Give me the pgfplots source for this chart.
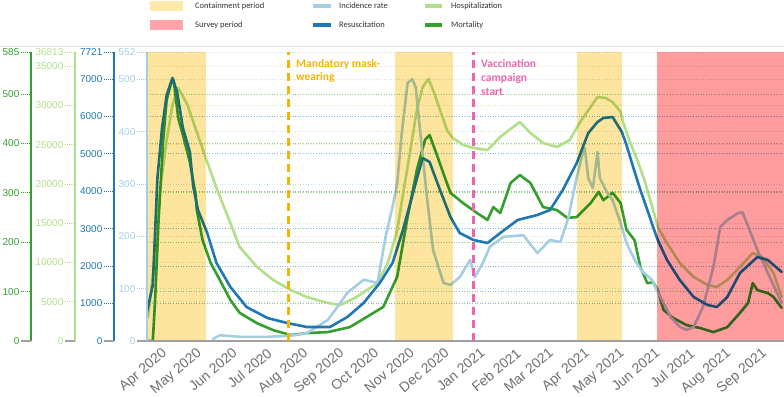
\documentclass[border=0pt]{standalone}
\usepackage{pgfplots}
\pgfplotsset{compat=1.18}
\usepackage{pgfplotstable}
\usepackage{fontspec}
\setmainfont{Liberation Sans}
\newfontfamily\calfont{Carlito}

\definecolor{incid}{HTML}{A6CEE3}
\definecolor{resus}{HTML}{1F78B4}
\definecolor{hosp}{HTML}{B2DF8A}
\definecolor{mort}{HTML}{33A02C}
\definecolor{contain}{HTML}{FDE5A0}
\definecolor{containkey}{HTML}{FFE8A8}
\definecolor{survey}{HTML}{FF9C9E}
\definecolor{surveykey}{HTML}{FFA5A8}
\definecolor{maskc}{HTML}{F5B400}
\definecolor{vaccc}{HTML}{E966B0}
\definecolor{datelab}{HTML}{707070}
\definecolor{zeroline}{HTML}{A0A0A0}
\definecolor{keytext}{HTML}{333333}

% x = days since 1 March 2020
\pgfplotstableread{
day value
75 4
81 11
98 8
122 8
142 10
156 15
174 40
176 46
185 73
191 92
205 117
217 111
224 199
230 256
234 302
238 397
243 493
247 500
250 485
254 397
260 269
265 174
274 111
280 107
288 122
297 155
301 122
308 149
314 180
326 199
343 202
355 168
366 193
375 189
382 237
389 313
395 365
396 369
399 311
403 292
407 361
409 311
415 285
420 269
427 225
432 187
439 155
446 132
454 117
458 97
464 73
470 46
478 27
484 21
490 27
498 65
507 141
513 218
519 231
528 244
532 246
536 225
545 174
554 130
562 92
566 73
}\incidencedata

\pgfplotstableread{
day value
18 775
23 1496
27 4355
31 5690
35 6572
40 7026
44 6652
49 5690
55 5049
58 4114
62 3500
70 2885
78 2084
90 1443
104 908
122 614
139 481
156 374
176 374
191 641
205 1015
219 1550
230 2084
239 2965
250 4221
256 4889
262 4782
271 4034
280 3313
288 2885
300 2698
312 2618
323 2885
338 3233
355 3366
366 3500
377 4034
389 4755
399 5557
407 5851
412 5958
420 5984
428 5584
432 5236
438 4622
444 4034
450 3500
455 3046
459 2698
467 2164
478 1630
490 1175
502 962
510 908
519 1175
530 1817
545 2244
554 2164
566 1843
}\resusdata

\pgfplotstableread{
day value
19 3057
25 10955
29 18980
35 25603
40 30062
45 32227
53 30062
58 27896
64 25349
70 22801
78 19489
90 15031
98 11974
113 9426
127 7770
142 6496
156 5605
174 4840
185 4586
199 5605
217 7388
226 9936
234 14139
243 22164
251 29425
256 32355
261 33374
265 31972
271 29425
277 26877
282 25858
291 24966
300 24584
312 24330
323 25986
333 27132
340 27896
349 26495
360 25221
372 24712
383 25603
392 27896
398 29170
407 31081
414 30953
420 30444
427 29170
429 27896
435 25349
442 22801
448 20253
455 16687
459 14521
467 12483
478 9936
490 8152
502 7133
510 6879
519 7770
530 9426
541 11209
549 10700
559 8662
566 5605
}\hospdata

\pgfplotstableread{
day value
19 0
23 0
25 83
28 245
32 407
35 488
39 524
41 528
45 451
49 417
55 362
60 296
61 265
66 204
73 158
81 123
90 83
98 57
113 36
127 22
142 12
156 16
174 18
193 28
208 49
222 69
234 130
243 251
251 346
258 407
262 417
269 372
275 332
280 300
291 279
303 259
312 245
317 271
323 259
332 320
340 336
349 320
360 271
372 265
381 249
389 251
401 279
408 302
412 285
420 300
427 279
432 225
439 204
444 150
450 117
455 119
459 103
464 63
472 47
484 32
496 26
507 18
519 28
530 57
537 77
541 117
545 103
554 97
559 89
566 67
}\mortdata

\pgfplotsset{
  plotarea/.style={scale only axis, width=637bp, height=289bp,
    at={(0bp,0bp)}, anchor=south west, xmin=18, xmax=568, ymin=0},
  blank/.style={plotarea, hide axis},
  numfmt/.style={scaled y ticks=false,
    /pgf/number format/.cd, 1000 sep={}, assume math mode=true},
  gridonly/.style={plotarea, numfmt, axis line style={draw=none}, xtick=\empty,
    yticklabels={}, major tick length=0pt, ymajorgrids,
    grid style={#1!55, line width=0.7bp, dash pattern=on 1bp off 1.6bp}},
  curve/.style={#1, line width=2.6bp, line join=round, line cap=round, mark=none},
  sideaxis/.style n args={2}{scale only axis, width=2bp, height=289bp,
    at={(#1,0bp)}, anchor=south west, xmin=0, xmax=1, ymin=0,
    hide x axis, axis y line*=left, tick align=outside,
    y axis line style={#2, line width=1.1bp},
    major tick length=10bp,
    ytick style={#2, line width=0.8bp, dash pattern=on 1bp off 1bp},
    yticklabel style={text=#2, font=\fontsize{10}{12}\selectfont, inner sep=1.5bp},
    extra y ticks={0},
    extra y tick style={ytick style={zeroline, solid, line width=1.2bp}},
    numfmt},
}

\begin{document}
\begin{tikzpicture}

% dotted grid lines of the four scales
\begin{axis}[gridonly=mort, ymax=585, ytick={100,200,300,400,500,585}]
\addplot[draw=none] coordinates {(100,0)};
\end{axis}
\begin{axis}[gridonly=hosp, ymax=36813, ytick={5000,10000,15000,20000,25000,30000,35000,36813}]
\addplot[draw=none] coordinates {(100,0)};
\end{axis}
\begin{axis}[gridonly=resus, ymax=7721, ytick={1000,2000,3000,4000,5000,6000,7000,7721}]
\addplot[draw=none] coordinates {(100,0)};
\end{axis}
\begin{axis}[gridonly=incid, ymax=552, ytick={100,200,300,400,500,552}]
\addplot[draw=none] coordinates {(100,0)};
\end{axis}

% the four series, each on its own scale
\begin{axis}[blank, ymax=36813]
\addplot[curve=hosp] table[x=day, y=value] {\hospdata};
\end{axis}
\begin{axis}[blank, ymax=585]
\addplot[curve=mort] table[x=day, y=value] {\mortdata};
\end{axis}
\begin{axis}[blank, ymax=552]
\addplot[curve=incid] table[x=day, y=value] {\incidencedata};
\end{axis}
\begin{axis}[blank, ymax=7721]
\addplot[curve=resus] table[x=day, y=value] {\resusdata};
\end{axis}

% containment and survey periods, multiplied over the curves
\begin{scope}[blend mode=multiply]
\begin{axis}[blank, ymax=552]
\addplot[fill=contain, draw=none] coordinates {(18,552) (69,552)} \closedcycle;
\addplot[fill=contain, draw=none] coordinates {(232,552) (282.3,552)} \closedcycle;
\addplot[fill=contain, draw=none] coordinates {(389.4,552) (428.2,552)} \closedcycle;
\addplot[fill=survey, draw=none] coordinates {(458.5,552) (568,552)} \closedcycle;
\end{axis}
\end{scope}

% incidence scale, date axis and event lines
\begin{axis}[plotarea, ymax=552, numfmt,
  axis x line*=bottom, axis y line*=left,
  x axis line style={zeroline, line width=1.8bp},
  y axis line style={incid, line width=1.1bp},
  tick align=outside, major tick length=10bp,
  xtick={31,61,92,122,153,184,214,245,275,306,337,365,396,426,457,487,518,549},
  xticklabels={Apr 2020,May 2020,Jun 2020,Jul 2020,Aug 2020,Sep 2020,Oct 2020,Nov 2020,Dec 2020,Jan 2021,Feb 2021,Mar 2021,Apr 2021,May 2021,Jun 2021,Jul 2021,Aug 2021,Sep 2021},
  xtick style={draw=none},
  xticklabel style={xshift=-1bp, yshift=4bp, rotate=40, anchor=north east, inner sep=0pt,
    text=datelab, font=\fontsize{14}{16}\selectfont},
  ytick={100,200,300,400,500,552},
  ytick style={incid, line width=0.8bp, dash pattern=on 1bp off 1bp},
  yticklabel style={text=incid, font=\fontsize{10}{12}\selectfont, inner sep=1.5bp},
  extra y ticks={0},
  extra y tick style={ytick style={zeroline, solid, line width=1.2bp}},
]
\addplot[maskc, line width=2.6bp, dash pattern=on 8bp off 5bp] coordinates {(140,0) (140,552)};
\addplot[vaccc, line width=2.6bp, dash pattern=on 8bp off 5bp] coordinates {(300,0) (300,552)};
\end{axis}

% extra scales on the left
\begin{axis}[sideaxis={-33bp}{resus}, ymax=7721, ytick={1000,2000,3000,4000,5000,6000,7000,7721}]
\addplot[draw=none] coordinates {(0,0)};
\end{axis}
\begin{axis}[sideaxis={-72bp}{hosp}, ymax=36813, ytick={5000,10000,15000,20000,25000,30000,35000,36813}]
\addplot[draw=none] coordinates {(0,0)};
\end{axis}
\begin{axis}[sideaxis={-116bp}{mort}, ymax=585, ytick={100,200,300,400,500,585}]
\addplot[draw=none] coordinates {(0,0)};
\end{axis}

% event labels
\begin{scope}[every node/.style={anchor=base west, inner sep=0pt,
    font=\calfont\bfseries\fontsize{11.5}{14}\selectfont}]
\node[text=maskc] at (149bp,273.7bp) {Mandatory mask-};
\node[text=maskc] at (149bp,260bp) {wearing};
\node[text=vaccc] at (334bp,273.7bp) {Vaccination};
\node[text=vaccc] at (334bp,259.6bp) {campaign};
\node[text=vaccc] at (334bp,245.6bp) {start};
\end{scope}

% key
\draw[black!10, line width=0.8bp] (-147bp,295bp) -- (637bp,295bp);
\fill[containkey] (3bp,330bp) rectangle (36bp,340bp);
\fill[surveykey] (3bp,311bp) rectangle (36bp,321bp);
\draw[incid, line width=3.5bp] (166bp,335bp) -- (184bp,335bp);
\draw[resus, line width=3.5bp] (166bp,316bp) -- (184bp,316bp);
\draw[hosp, line width=3.5bp] (278bp,335bp) -- (295bp,335bp);
\draw[mort, line width=3.5bp] (278bp,316bp) -- (295bp,316bp);
\begin{scope}[every node/.style={anchor=west, inner sep=0pt, text=keytext,
    font=\calfont\fontsize{8.5}{10}\selectfont}]
\node at (48bp,335bp) {Containment period};
\node at (48bp,316bp) {Survey period};
\node at (192bp,335bp) {Incidence rate};
\node at (192bp,316bp) {Resuscitation};
\node at (304bp,335bp) {Hospitalization};
\node at (304bp,316bp) {Mortality};
\end{scope}

\pgfresetboundingbox
\path[use as bounding box] (-147bp,-56bp) rectangle (637bp,341bp);
\end{tikzpicture}
\end{document}
